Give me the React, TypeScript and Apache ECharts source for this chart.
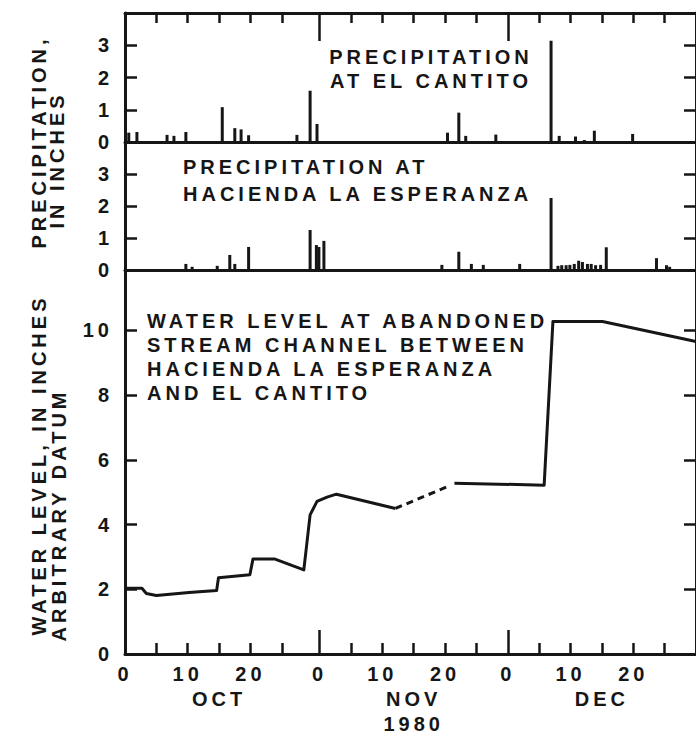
import React, { useEffect, useRef } from "react";
import * as echarts from "echarts";

const FONT = "'Liberation Sans', Arial, Helvetica, sans-serif";
const INK = "#161616";

// x values are days after 30 Sep 1980 (OCT "0" = 0, NOV "0" = 31, DEC "0" = 61)
const X_MAX = 91;
const LEVEL_MAX = 11.87;

// Precipitation at El Cantito (inches)
const cantitoDays = [0.6, 1.9, 6.7, 7.8, 9.7, 15.5, 17.5, 18.5, 19.7, 27.4, 29.5, 30.6, 51.4, 53.2, 54.3, 59.1, 67.9, 69.2, 71.8, 73.2, 74.8, 80.9];
const cantitoInches = [0.29, 0.31, 0.22, 0.19, 0.31, 1.08, 0.43, 0.39, 0.21, 0.22, 1.59, 0.56, 0.29, 0.91, 0.19, 0.23, 3.14, 0.19, 0.17, 0.06, 0.35, 0.25];

// Precipitation at Hacienda La Esperanza (inches)
const esperanzaDays = [9.7, 10.7, 14.7, 16.7, 17.5, 19.7, 29.5, 30.5, 30.9, 31.7, 50.5, 53.2, 55.2, 57.1, 62.9, 67.9, 69.0, 69.6, 70.3, 70.9, 71.6, 72.3, 72.9, 73.7, 74.3, 75.0, 75.8, 76.7, 84.7, 86.3, 86.8];
const esperanzaInches = [0.19, 0.1, 0.13, 0.47, 0.19, 0.72, 1.25, 0.78, 0.72, 0.91, 0.16, 0.57, 0.19, 0.16, 0.19, 2.25, 0.13, 0.15, 0.15, 0.16, 0.19, 0.29, 0.25, 0.19, 0.19, 0.15, 0.16, 0.71, 0.37, 0.15, 0.1];

// Water level (inches, arbitrary datum): measured, estimated (dashed), measured
const levelDaysA = [0, 2.7, 3.4, 5.0, 10.2, 14.6, 14.9, 19.9, 20.4, 23.8, 28.5, 29.5, 30.6, 32.2, 33.7, 43.1];
const levelA = [2.03, 2.03, 1.87, 1.81, 1.9, 1.96, 2.36, 2.45, 2.94, 2.94, 2.6, 4.3, 4.72, 4.85, 4.94, 4.5];
const levelDaysEst = [43.1, 51.7];
const levelEst = [4.5, 5.2];
const levelDaysB = [52.5, 66.8, 68.2, 76.1, 89.5, 91];
const levelB = [5.28, 5.22, 10.28, 10.28, 9.72, 9.66];

// Axis ticks and labels
const dayLabelValues = [0, 10, 20, 31, 41, 51, 61, 71, 81];
const dayLabelTexts = ["0", "10", "20", "0", "10", "20", "0", "10", "20"];
const minorTickDays = [5, 10, 15, 20, 25, 36, 41, 46, 51, 56, 66, 71, 76, 81, 86];
const monthStartDays = [31, 61];
const monthLabelDays = [15, 46, 76];
const monthLabelTexts = ["OCT", "NOV\n1980", "DEC"];
const precipLabels = [0, 1, 2, 3];
const precipTicks = [1, 2, 3];
const levelLabels = [0, 2, 4, 6, 8, 10];
const levelTicks = [2, 4, 6, 8, 10];

const zip = (xs: number[], ys: number[]) => xs.map((x, i) => [x, ys[i]]);

const lineStyle = { color: INK, width: 3 };
const textBase = { fontFamily: FONT, fontWeight: "bold" as const, fontSize: 20, color: INK };

function xAxisBase(gridIndex: number, position: "top" | "bottom") {
  return {
    type: "value" as const,
    gridIndex,
    position,
    min: 0,
    max: X_MAX,
    interval: 1,
    splitLine: { show: false },
    axisLine: { show: false, onZero: false, lineStyle },
    axisTick: { show: false },
    axisLabel: { show: false },
  };
}

function yAxisPair(gridIndex: number, max: number, labels: number[], ticks: number[]) {
  const base = {
    type: "value" as const,
    gridIndex,
    min: 0,
    max,
    interval: 1,
    splitLine: { show: false },
    axisLine: { show: true, onZero: false, lineStyle },
    axisTick: { show: true, inside: true, length: 12, customValues: ticks, lineStyle: { color: INK, width: 2.5 } },
  };
  return [
    {
      ...base,
      position: "left" as const,
      axisLabel: {
        show: true,
        customValues: labels,
        margin: 12,
        ...textBase,
        formatter: (v: number) => String(v),
      },
    },
    { ...base, position: "right" as const, axisLabel: { show: false } },
  ];
}

export default function App() {
  const ref = useRef<HTMLDivElement>(null);

  useEffect(() => {
    if (!ref.current) return;
    const chart = echarts.init(ref.current, undefined, { renderer: "svg" });
    const gridLeft = 125;
    const gridWidth = 580.3;

    const option: any = {
      animation: false,
      backgroundColor: "#ffffff",
      grid: [
        { left: gridLeft, width: gridWidth, top: 13, height: 129 },
        { left: gridLeft, width: gridWidth, top: 142, height: 128 },
        { left: gridLeft, width: gridWidth, top: 270, height: 387 },
      ],
      xAxis: [
        // 0: top panel bottom line
        { ...xAxisBase(0, "bottom"), axisLine: { show: true, onZero: false, lineStyle } },
        // 1: top panel top line with minor ticks
        {
          ...xAxisBase(0, "top"),
          axisLine: { show: true, onZero: false, lineStyle },
          axisTick: { show: true, inside: true, length: 10, customValues: minorTickDays, lineStyle: { color: INK, width: 2.5 } },
        },
        // 2: top panel month boundary ticks
        {
          ...xAxisBase(0, "top"),
          axisTick: { show: true, inside: true, length: 28, customValues: monthStartDays, lineStyle: { color: INK, width: 2.5 } },
        },
        // 3: middle panel bottom line
        { ...xAxisBase(1, "bottom"), axisLine: { show: true, onZero: false, lineStyle } },
        // 4: bottom panel axis with minor ticks and day labels
        {
          ...xAxisBase(2, "bottom"),
          axisLine: { show: true, onZero: false, lineStyle },
          axisTick: { show: true, inside: true, length: 11, customValues: minorTickDays, lineStyle: { color: INK, width: 2.5 } },
          axisLabel: {
            show: true,
            customValues: dayLabelValues,
            margin: 10,
            ...textBase,
            formatter: (v: number) => {
              const i = dayLabelValues.indexOf(v);
              return i >= 0 ? dayLabelTexts[i] : "";
            },
          },
        },
        // 5: bottom panel month boundary ticks
        {
          ...xAxisBase(2, "bottom"),
          axisTick: { show: true, inside: true, length: 24, customValues: monthStartDays, lineStyle: { color: INK, width: 2.5 } },
        },
        // 6: month names and year
        {
          ...xAxisBase(2, "bottom"),
          axisLabel: {
            show: true,
            customValues: monthLabelDays,
            margin: 32,
            lineHeight: 25,
            ...textBase,
            formatter: (v: number) => {
              const i = monthLabelDays.indexOf(v);
              return i >= 0 ? monthLabelTexts[i] : "";
            },
          },
        },
      ],
      yAxis: [
        ...yAxisPair(0, 4, precipLabels, precipTicks),
        ...yAxisPair(1, 4, precipLabels, precipTicks),
        ...yAxisPair(2, LEVEL_MAX, levelLabels, levelTicks),
      ],
      series: [
        {
          type: "bar",
          name: "Precipitation at El Cantito",
          xAxisIndex: 0,
          yAxisIndex: 0,
          barWidth: 3,
          itemStyle: { color: INK },
          data: zip(cantitoDays, cantitoInches),
        },
        {
          type: "bar",
          name: "Precipitation at Hacienda La Esperanza",
          xAxisIndex: 3,
          yAxisIndex: 2,
          barWidth: 3,
          itemStyle: { color: INK },
          data: zip(esperanzaDays, esperanzaInches),
        },
        {
          type: "line",
          name: "Water level",
          xAxisIndex: 4,
          yAxisIndex: 4,
          symbol: "none",
          lineStyle: { color: INK, width: 3, join: "round" },
          data: zip(levelDaysA, levelA),
        },
        {
          type: "line",
          name: "Water level (estimated)",
          xAxisIndex: 4,
          yAxisIndex: 4,
          symbol: "none",
          lineStyle: { color: INK, width: 3, type: [7, 5] },
          data: zip(levelDaysEst, levelEst),
        },
        {
          type: "line",
          name: "Water level",
          xAxisIndex: 4,
          yAxisIndex: 4,
          symbol: "none",
          lineStyle: { color: INK, width: 3, join: "round" },
          data: zip(levelDaysB, levelB),
        },
      ],
      graphic: [
        {
          type: "text",
          x: 431,
          y: 69,
          style: {
            text: "PRECIPITATION\nAT EL CANTITO",
            fontFamily: FONT, fontWeight: "bold", fontSize: 20, fill: INK,
            align: "center", verticalAlign: "middle", lineHeight: 24.5,
          },
        },
        {
          type: "text",
          x: 183,
          y: 180,
          style: {
            text: "PRECIPITATION AT\nHACIENDA LA ESPERANZA",
            fontFamily: FONT, fontWeight: "bold", fontSize: 20, fill: INK,
            align: "left", verticalAlign: "middle", lineHeight: 27,
          },
        },
        {
          type: "text",
          x: 147,
          y: 357,
          style: {
            text: "WATER LEVEL AT ABANDONED\nSTREAM CHANNEL BETWEEN\nHACIENDA LA ESPERANZA\nAND EL CANTITO",
            fontFamily: FONT, fontWeight: "bold", fontSize: 20, fill: INK,
            align: "left", verticalAlign: "middle", lineHeight: 24.2,
          },
        },
        {
          type: "text",
          x: 38.5,
          y: 142,
          rotation: Math.PI / 2,
          style: {
            text: "PRECIPITATION,",
            fontFamily: FONT, fontWeight: "bold", fontSize: 20, fill: INK,
            align: "center", verticalAlign: "middle",
          },
        },
        {
          type: "text",
          x: 57,
          y: 160,
          rotation: Math.PI / 2,
          style: {
            text: "IN INCHES",
            fontFamily: FONT, fontWeight: "bold", fontSize: 20, fill: INK,
            align: "center", verticalAlign: "middle",
          },
        },
        {
          type: "text",
          x: 39,
          y: 465,
          rotation: Math.PI / 2,
          style: {
            text: "WATER LEVEL, IN INCHES",
            fontFamily: FONT, fontWeight: "bold", fontSize: 20, fill: INK,
            align: "center", verticalAlign: "middle",
          },
        },
        {
          type: "text",
          x: 59,
          y: 515,
          rotation: Math.PI / 2,
          style: {
            text: "ARBITRARY DATUM",
            fontFamily: FONT, fontWeight: "bold", fontSize: 20, fill: INK,
            align: "center", verticalAlign: "middle",
          },
        },
      ],
    };

    chart.setOption(option);
    return () => chart.dispose();
  }, []);

  return (
    <>
      <style>{`.usgs-chart text { letter-spacing: 4px; }`}</style>
      <div
        ref={ref}
        className="usgs-chart"
        style={{ position: "absolute", left: 0, top: 0, width: 696, height: 736, background: "#fff" }}
      />
    </>
  );
}
